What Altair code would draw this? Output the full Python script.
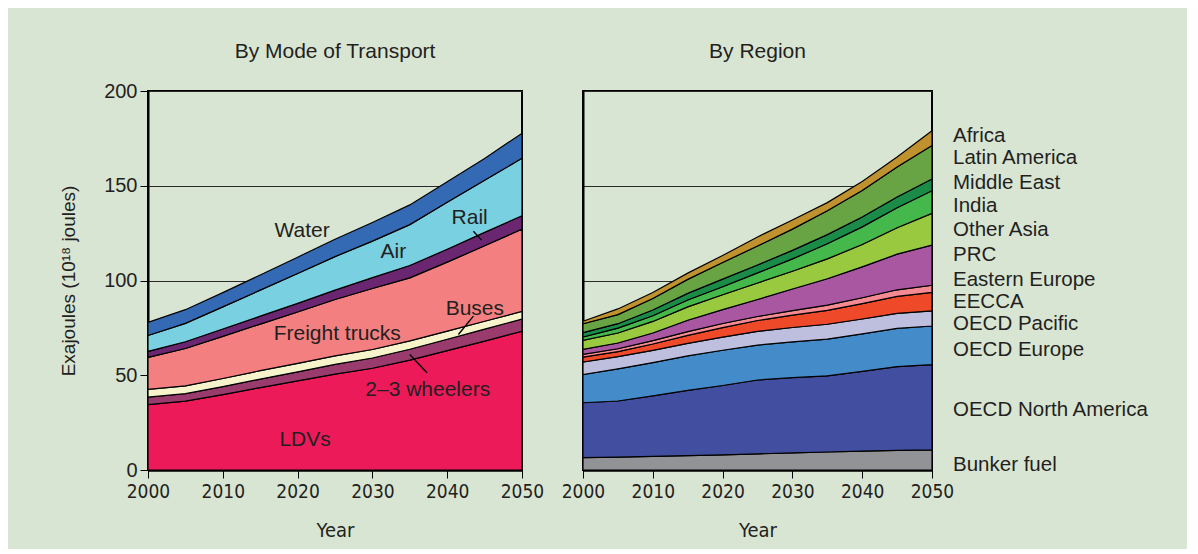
import altair as alt
import pandas as pd

# ---------------- data ----------------
years = [2000, 2005, 2010, 2015, 2020, 2025, 2030, 2035, 2040, 2045, 2050]

# By mode of transport (exajoules), stacked bottom -> top
modes = ["LDVs", "2–3 wheelers", "Buses", "Freight trucks", "Rail", "Air", "Water"]
mode_colors = ["#ED1A5A", "#9A3B6E", "#F7F4CB", "#F37F80", "#6A2670", "#79D0E0", "#3469B4"]
ldvs = [34.5, 36.3, 39.8, 43.5, 47.0, 50.6, 53.7, 58.0, 63.0, 68.0, 73.2]
wheelers = [4.0, 4.0, 4.2, 4.5, 4.8, 5.1, 5.4, 5.7, 6.0, 6.3, 6.5]
buses = [4.0, 4.1, 4.3, 4.4, 4.5, 4.5, 4.5, 4.4, 4.3, 4.2, 4.0]
freight = [16.9, 19.7, 22.2, 24.6, 27.1, 29.8, 32.2, 33.3, 36.4, 39.8, 43.4]
rail = [3.2, 3.6, 3.9, 4.2, 4.5, 4.9, 5.7, 6.5, 6.8, 7.1, 7.1]
air = [8.4, 9.7, 11.7, 13.7, 15.8, 17.7, 19.3, 21.6, 24.8, 27.5, 30.3]
water = [6.9, 7.2, 7.5, 8.0, 8.6, 9.2, 9.8, 10.4, 10.8, 11.5, 13.2]
mode_values = [ldvs, wheelers, buses, freight, rail, air, water]

# By region (exajoules), stacked bottom -> top
regions = ["Bunker fuel", "OECD North America", "OECD Europe", "OECD Pacific", "EECCA",
           "Eastern Europe", "PRC", "Other Asia", "India", "Middle East", "Latin America", "Africa"]
region_colors = ["#929396", "#424FA0", "#438BC9", "#BEBFDF", "#EE4A2A", "#F58A92",
                 "#A857A0", "#98C93E", "#45B84C", "#1B8B48", "#68A444", "#C0922F"]
bunker = [6.5, 6.8, 7.2, 7.6, 8.0, 8.5, 9.0, 9.5, 10.0, 10.4, 10.6]
oecd_na = [29.0, 29.6, 31.9, 34.4, 36.6, 39.0, 39.7, 40.2, 42.0, 44.2, 45.0]
oecd_eu = [14.9, 17.0, 17.6, 18.2, 18.6, 18.4, 18.9, 19.4, 19.8, 20.1, 20.4]
oecd_pac = [6.6, 6.4, 6.4, 6.6, 6.9, 7.3, 7.6, 7.8, 7.9, 8.0, 8.0]
eecca = [2.6, 2.7, 3.4, 4.2, 5.0, 5.7, 6.5, 7.3, 8.1, 8.9, 9.7]
e_europe = [1.4, 1.5, 1.8, 2.0, 2.2, 2.1, 2.4, 2.8, 3.1, 3.5, 3.8]
prc = [2.7, 3.0, 4.0, 6.0, 7.3, 9.0, 11.4, 13.9, 16.3, 18.8, 21.2]
other_asia = [4.7, 5.3, 6.1, 7.1, 7.9, 8.7, 9.4, 10.5, 11.8, 13.9, 16.7]
india = [1.8, 2.6, 3.0, 3.6, 4.2, 5.3, 6.5, 8.0, 9.3, 10.6, 12.0]
middle_east = [2.3, 2.3, 3.0, 3.5, 4.0, 4.2, 4.5, 4.8, 5.2, 5.7, 6.2]
latin_america = [4.7, 4.8, 6.1, 7.4, 8.8, 10.0, 11.2, 12.6, 14.0, 15.8, 17.7]
africa = [1.3, 3.0, 3.2, 3.3, 3.7, 4.8, 4.8, 4.3, 4.7, 5.3, 7.7]
region_values = [bunker, oecd_na, oecd_eu, oecd_pac, eecca, e_europe, prc,
                 other_asia, india, middle_east, latin_america, africa]

# in-chart labels of the left panel (year, exajoules)
mode_label_text = ["Water", "Air", "Rail", "Buses", "Freight trucks", "2–3 wheelers", "LDVs"]
mode_label_year = [2020.6, 2032.8, 2043.0, 2043.7, 2025.3, 2037.4, 2021.0]
mode_label_val = [125.9, 114.8, 133.2, 85.2, 72.0, 42.0, 15.6]
# leader lines (year, value) -> (year2, value2)
leader_year = [2043.5, 2043.5, 2035.0]
leader_val = [126.0, 81.2, 60.9]
leader_year2 = [2044.6, 2041.5, 2037.3]
leader_val2 = [121.3, 71.5, 51.3]

# right-hand labels of the region panel (label position in exajoules)
region_label_text = ["Africa", "Latin America", "Middle East", "India", "Other Asia", "PRC",
                     "Eastern Europe", "EECCA", "OECD Pacific", "OECD Europe",
                     "OECD North America", "Bunker fuel"]
region_label_val = [176.0, 164.9, 151.7, 139.1, 126.4, 113.2, 100.2, 88.5, 77.3, 63.1, 31.9, 2.9]

# ---------------- tables ----------------
def long_table(names, values, key):
    rows = []
    for i, (n, vals) in enumerate(zip(names, values)):
        for y, v in zip(years, vals):
            rows.append({"year": y, key: n, "value": v, "ord": i})
    return pd.DataFrame(rows)

df_mode = long_table(modes, mode_values, "mode")
df_region = long_table(regions, region_values, "region")
df_mlab = pd.DataFrame({"label": mode_label_text, "year": mode_label_year, "value": mode_label_val})
df_lead = pd.DataFrame({"year": leader_year, "value": leader_val,
                        "year2": leader_year2, "value2": leader_val2})
df_rlab = pd.DataFrame({"label": region_label_text, "value": region_label_val,
                        "year": [2050] * len(region_label_text)})

FONT = "Liberation Sans, Arial, Helvetica, sans-serif"
NARROW = "Liberation Sans Narrow, DejaVu Sans Condensed, Liberation Sans, Arial, sans-serif"
TXT = "#231F20"

xscale = alt.Scale(domain=[2000, 2050], nice=False, zero=False)
yscale = alt.Scale(domain=[0, 200], nice=False)

x_axis = alt.Axis(values=years[::2], format="d", title="Year", labelFont=NARROW, labelFontSize=19,
                  titleFont=NARROW, titleFontSize=20, titleFontWeight="normal", titleColor=TXT,
                  labelColor=TXT, tickSize=8, tickColor="black", tickWidth=1, domainColor="black",
                  domainWidth=2.5, labelPadding=4, titlePadding=19, grid=False, labelFlush=False)

y_axis_left = alt.Axis(values=[0, 50, 100, 150, 200], title="Exajoules (10¹⁸ joules)",
                       labelFont=FONT, labelFontSize=20, labelColor=TXT, titleFont=FONT,
                       titleFontSize=19, titleFontWeight="normal", titleColor=TXT,
                       tickSize=8, tickColor="black", tickWidth=1, domainColor="black",
                       domainWidth=2, labelPadding=3, titlePadding=25,
                       grid=True, gridColor="#2a2a2a", gridWidth=1)
y_axis_right = alt.Axis(values=[0, 50, 100, 150, 200], title=None, labels=False, ticks=False,
                        domainColor="black", domainWidth=2,
                        grid=True, gridColor="#2a2a2a", gridWidth=1)

# ---------------- left panel ----------------
area_left = alt.Chart(df_mode).mark_area(stroke="black", strokeWidth=1.2, opacity=1).encode(
    x=alt.X("year:Q", scale=xscale, axis=x_axis),
    y=alt.Y("value:Q", stack="zero", scale=yscale, axis=y_axis_left),
    color=alt.Color("mode:N", scale=alt.Scale(domain=modes, range=mode_colors), legend=None),
    order=alt.Order("ord:Q", sort="ascending"),
)
lead_left = alt.Chart(df_lead).mark_rule(color="black", strokeWidth=1.4).encode(
    x="year:Q", y="value:Q", x2="year2:Q", y2="value2:Q")
text_left = alt.Chart(df_mlab).mark_text(font=FONT, fontSize=21, color=TXT, align="center",
                                         baseline="middle").encode(
    x="year:Q", y="value:Q", text="label:N")

left = alt.layer(area_left, lead_left, text_left).properties(
    width=374, height=379,
    title=alt.TitleParams("By Mode of Transport", font=FONT, fontSize=21, fontWeight="normal",
                          color=TXT, offset=19, anchor="middle", frame="group"),
)

# ---------------- right panel ----------------
area_right = alt.Chart(df_region).mark_area(stroke="black", strokeWidth=1.2, opacity=1).encode(
    x=alt.X("year:Q", scale=xscale, axis=x_axis),
    y=alt.Y("value:Q", stack="zero", scale=yscale, axis=y_axis_right),
    color=alt.Color("region:N", scale=alt.Scale(domain=regions, range=region_colors), legend=None),
    order=alt.Order("ord:Q", sort="ascending"),
)
text_right = alt.Chart(df_rlab).mark_text(font=FONT, fontSize=20.5, color=TXT, align="left",
                                          baseline="middle", dx=21).encode(
    x="year:Q", y="value:Q", text="label:N")

right = alt.layer(area_right, text_right).properties(
    width=349, height=379,
    title=alt.TitleParams("By Region", font=FONT, fontSize=21, fontWeight="normal",
                          color=TXT, offset=29, anchor="middle", frame="group"),
)

chart = alt.hconcat(left, right, spacing=61, bounds="flush").resolve_scale(
    color="independent"
).properties(
    padding={"left": 50, "top": 32, "right": 37, "bottom": 8},
    background="#D9E5D3",
).configure_view(stroke="black", strokeWidth=2)

chart.save("out.html", embed_options={"renderer": "svg", "actions": False})
